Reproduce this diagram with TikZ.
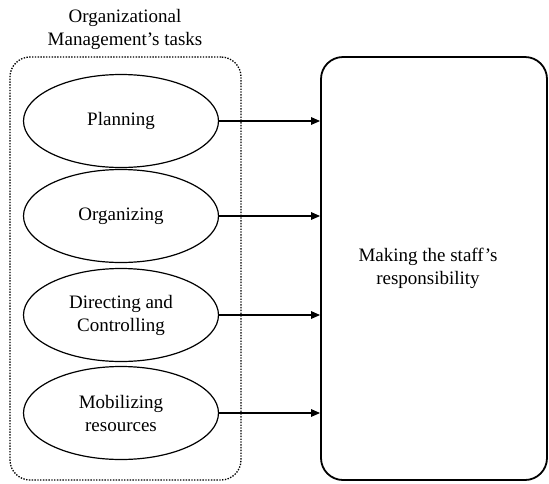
\documentclass[tikz,border=0pt]{standalone}
\usepackage{fontspec}
\setmainfont{Liberation Serif}
\usetikzlibrary{shapes.geometric,arrows.meta}
\begin{document}
\begin{tikzpicture}[x=1pt,y=-1pt,
  task/.style={ellipse,draw,line width=1.2pt,minimum width=195pt,minimum height=93pt,inner sep=0pt,align=center,font=\fontsize{19}{23}\selectfont},
  conn/.style={line width=1.3pt,-{Triangle[length=9pt,width=7.5pt]}},
  groupbox/.style={draw,dash pattern=on 1.4pt off 1.4pt,line width=1.3pt,rounded corners=20pt},
  target/.style={draw,line width=1.8pt,rounded corners=22pt,align=center,font=\fontsize{19}{23}\selectfont,minimum width=226pt,minimum height=423pt}
  ]
\useasboundingbox (0,0) rectangle (549,483);
\node[groupbox,minimum width=231pt,minimum height=423pt] (grp) at (125.5,268.5) {};
\node[align=center,font=\fontsize{19}{23}\selectfont] (title) at (125,29) {Organizational\\Management's tasks};
\node[target] (resp) at (434,268.5) {\hspace*{-12pt}Making the staff's\\\hspace*{-12pt}responsibility};
\node[task] (plan) at (121,121) {Planning};
\node[task] (org) at (121,216) {Organizing};
\node[task] (dir) at (121,315) {Directing and\\Controlling};
\node[task] (mob) at (121,413) {Mobilizing\\resources};
\foreach \n in {plan,org,dir,mob}
  \draw[conn] (\n.east) -- (\n.east -| resp.west);
\end{tikzpicture}
\end{document}
